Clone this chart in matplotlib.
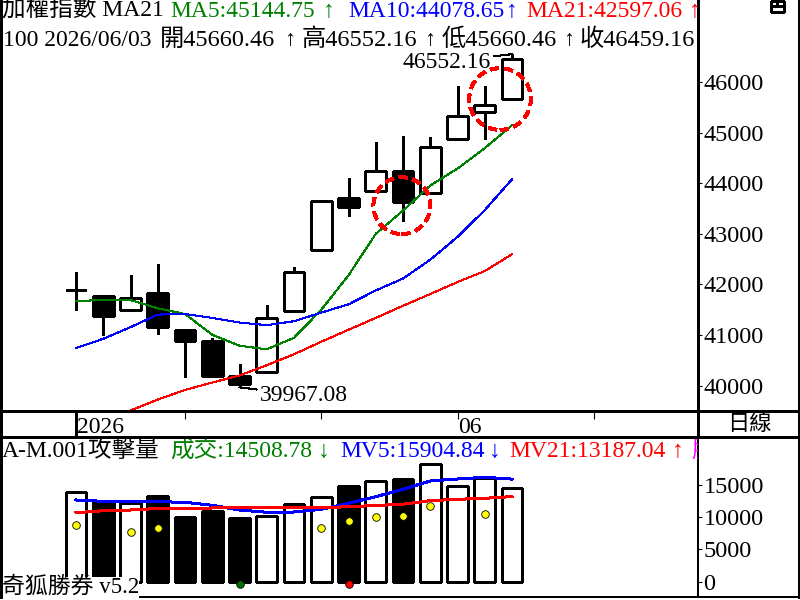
import matplotlib
matplotlib.use('Agg')
import matplotlib.pyplot as plt
from matplotlib.lines import Line2D
from matplotlib.patches import Rectangle
import numpy as np

# daily candles (last one is 2026/06/03)
opens = [41900, 41778, 41503, 41823, 41098, 40876, 40196, 40268, 41470, 42685,
         43704, 43855, 44234, 43816, 44880, 45410, 45660.46]
highs = [42254, 41778, 42195, 42411, 41098, 40941, 40437, 41601, 42352, 43640,
         44096, 44822, 44939, 44920, 45913, 45913, 46552.16]
lows = [41490, 41006, 41503, 41025, 40163, 40163, 39967.08, 40268, 41470, 42685,
        43358, 43855, 43248, 43816, 44880, 44880, 45660.46]
closes = [41900, 41386, 41739, 41156, 40888, 40183, 40033, 41347, 42248, 43640,
          43534, 44247, 43632, 44718, 45325, 45541, 46459.16]

ma5 = [41666, 41700, 41692, 41529, 41417, 41006, 40790, 40719, 40947, 41500,
       42180, 43000, 43460, 43954, 44291, 44693, 45144.75]
ma10 = [40745, 40927, 41156, 41405, 41417, 41339, 41248, 41196, 41274, 41444,
        41607, 41882, 42117, 42489, 42940, 43469, 44078.65]
ma21 = [39120, 39310, 39510, 39726, 39916, 40063, 40202, 40405, 40621, 40868,
        41105, 41339, 41580, 41811, 42048, 42265, 42597.06]

# volume panel
vols = [13857, 12307, 12152, 13284, 10029, 10959, 9874, 10137, 11997, 13082,
        14834, 15562, 15919, 18197, 14834, 16027, 14508.78]
mv5 = [12664, 12462, 12462, 12400, 12307, 11842, 11114, 10757, 10804, 11222,
       12152, 13175, 14322, 15609, 15919, 16182, 15904.84]
mv21 = [10695, 11005, 11114, 11346, 11377, 11424, 11424, 11470, 11470, 11470,
        11625, 11811, 12013, 12555, 12772, 12927, 13187.04]
yellow_idx = [0, 2, 3, 9, 10, 11, 12, 13, 15]
yellow_val = [8789, 7750, 8370, 8324, 9455, 10075, 10230, 11780, 10447]
green_dot_idx, red_dot_idx, dot_val = [6], [10], -350

# marked zones (dashed circles)
circle_x = [11.96, 15.56]
circle_y = [43557, 45664]
circle_s = [1681, 1970]

date_ticks = [0, 4, 9, 14, 19]
date_labels = {0: '2026', 14: '06'}
price_ticks = [40000, 41000, 42000, 43000, 44000, 45000, 46000]
vol_ticks = [0, 5000, 10000, 15000]

plt.rcParams['font.family'] = ['Liberation Serif', 'Noto Sans CJK TC']
plt.rcParams['font.size'] = 17
plt.rcParams['lines.antialiased'] = False
plt.rcParams['patch.antialiased'] = False

W, H = 800, 600
def fx(px): return px / W
def fy(py): return 1 - py / H

GREEN, BLUE, RED, MAG = '#008000', '#0000ff', '#ff0000', '#ff00ff'
LW = 0.8

fig = plt.figure(figsize=(8, 6), dpi=100)
x = np.arange(len(closes))
o, c = np.array(opens), np.array(closes)
up = c >= o
xlim = (-76 / 27.25, (698 - 76) / 27.25)

# ---- price panel
ax_p = fig.add_axes([0, fy(411), fx(698), 411 / H])
ax_p.vlines(x, lows, highs, color='black', lw=LW, zorder=2)
ax_p.bar(x, np.abs(c - o), bottom=np.minimum(o, c), width=0.77,
         color=np.where(up, 'white', 'black'), edgecolor='black', lw=LW, zorder=3)
ax_p.plot(x, ma5, color=GREEN, lw=0.75, zorder=4)
ax_p.plot(x, ma10, color=BLUE, lw=0.75, zorder=4)
ax_p.plot(x, ma21, color=RED, lw=0.75, zorder=4)
ax_p.scatter(circle_x, circle_y, s=circle_s, facecolors='none', edgecolors=RED,
             linewidths=2, linestyles=(0, (3, 2)), zorder=6)

i_hi = int(np.argmax(highs))
ax_p.annotate(f'{highs[i_hi]:.2f}', xy=(i_hi, highs[i_hi]), xytext=(-21, -8),
              textcoords='offset pixels', ha='right', va='center',
              arrowprops=dict(arrowstyle='-', lw=LW, color='black', shrinkA=0, shrinkB=0))
i_lo = int(np.argmin(lows))
ax_p.annotate(f'{lows[i_lo]:.2f}', xy=(i_lo, lows[i_lo]), xytext=(20, -8),
              textcoords='offset pixels', ha='left', va='center',
              arrowprops=dict(arrowstyle='-', lw=LW, color='black', shrinkA=0, shrinkB=0))

ax_p.set_xlim(xlim)
ax_p.set_ylim(40000 - 21.5 / 0.05111, 40000 + 389.5 / 0.05111)
ax_p.set_xticks([])
ax_p.set_yticks(price_ticks)
ax_p.set_yticks(np.arange(39500, 47500, 500), minor=True)
ax_p.yaxis.tick_right()
ax_p.tick_params(axis='y', which='major', direction='out', length=3, width=LW, pad=1,
                 labelsize=17.5)
ax_p.tick_params(axis='y', which='minor', direction='out', length=1, width=LW)
ax_p.spines['top'].set_visible(False)
for s in ax_p.spines.values():
    s.set_linewidth(LW)

def put(ax, px, py, s, color='black', ha='left', **kw):
    ax.text(fx(px), fy(py), s, color=color, transform=fig.transFigure,
            va='baseline', ha=ha, clip_on=True, zorder=10, **kw)

# header: texts and their arrows
put(ax_p, 2, 17, '加權指數 MA21')
put(ax_p, 170, 17, f'MA5:{ma5[-1]:.2f}', GREEN)
put(ax_p, 329, 17, '↑', GREEN, ha='center')
put(ax_p, 505, 17, f'MA10:{ma10[-1]:.2f}', BLUE, ha='right')
put(ax_p, 512, 17, '↑', BLUE, ha='center')
put(ax_p, 526, 17, f'MA21:{ma21[-1]:.2f}', RED)
put(ax_p, 695, 17, '↑', RED, ha='center')
put(ax_p, 3, 45.5, '100 2026/06/03')
put(ax_p, 160, 45.5, f'開{opens[-1]:.2f}', size=17.5)
put(ax_p, 290, 45.5, '↑', ha='center', size=16)
put(ax_p, 302, 45.5, f'高{highs[-1]:.2f}', size=17.5)
put(ax_p, 430, 45.5, '↑', ha='center', size=16)
put(ax_p, 442, 45.5, f'低{lows[-1]:.2f}', size=17.5)
put(ax_p, 569, 45.5, '↑', ha='center', size=16)
put(ax_p, 580, 45.5, f'收{closes[-1]:.2f}', size=17.5)

# ---- date strip
ax_d = fig.add_axes([0, fy(437), fx(698), 26 / H])
ax_d.set_xlim(xlim)
ax_d.set_ylim(0, 1)
ax_d.set_yticks([])
ax_d.set_xticks(date_ticks)
ax_d.tick_params(axis='x', top=True, bottom=False, direction='in', length=6,
                 width=LW, labeltop=False, labelbottom=False)
ax_d.axvline(date_ticks[0], color='black', lw=LW)
for i, lab in date_labels.items():
    ax_d.text(i + 0.04, 0.14, lab, transform=ax_d.get_xaxis_transform(), va='baseline')
ax_d.spines['top'].set_visible(False)
for s in ax_d.spines.values():
    s.set_linewidth(LW)

# ---- volume panel
ax_v = fig.add_axes([0, fy(597), fx(698), 160 / H])
ax_v.bar(x, vols, width=0.77, color=np.where(up, 'white', 'black'),
         edgecolor='black', lw=LW, zorder=2)
ax_v.plot(x, mv5, color=BLUE, lw=1.44, zorder=3)
ax_v.plot(x, mv21, color=RED, lw=1.44, zorder=3)
ax_v.scatter(yellow_idx, yellow_val, s=30, color='#ffff00', edgecolors='black',
             linewidths=0.6, zorder=4)
ax_v.scatter(green_dot_idx, [dot_val], s=30, color='#007000', edgecolors='black',
             linewidths=0.6, zorder=4, clip_on=False)
ax_v.scatter(red_dot_idx, [dot_val], s=30, color=RED, edgecolors='black',
             linewidths=0.6, zorder=4, clip_on=False)
ax_v.set_xlim(xlim)
ax_v.set_ylim(-(597 - 581.7) * 155, (581.7 - 437) * 155)
ax_v.set_xticks([])
ax_v.set_yticks(vol_ticks)
ax_v.yaxis.tick_right()
ax_v.tick_params(axis='y', direction='out', length=3, width=LW, pad=1, labelsize=17.5)
ax_v.spines['top'].set_visible(False)
for s in ax_v.spines.values():
    s.set_linewidth(LW)
ax_v.spines['right'].set_linewidth(1.44)
ax_v.spines['bottom'].set_linewidth(1.44)

put(ax_v, 2, 457, 'A-M.001攻擊量')
put(ax_v, 170, 457, f'成交:{vols[-1]:.2f}', GREEN)
put(ax_v, 324, 457, '↓', GREEN, ha='center')
put(ax_v, 340, 457, f'MV5:{mv5[-1]:.2f}', BLUE)
put(ax_v, 495, 457, '↓', BLUE, ha='center')
put(ax_v, 509, 457, f'MV21:{mv21[-1]:.2f}', RED)
put(ax_v, 678, 457, '↑', RED, ha='center')
put(ax_v, 691, 457, '股', MAG)
ax_v.text(fx(2), fy(593), '奇狐勝券 v5.2', transform=fig.transFigure, va='baseline',
          size=16.5, zorder=10, bbox=dict(fc='white', ec='none', pad=0))

# ---- frame and right-hand boxes
def fline(xs, ys, lw=LW):
    fig.add_artist(Line2D([fx(v) for v in xs], [fy(v) for v in ys],
                          color='black', lw=lw))

fline([0.5, 0.5], [0, 597])
fline([799, 799], [0, 597])
fline([0, 800], [411, 411])
fline([0, 800], [437, 437])
fline([698, 800], [597, 597], 1.44)
fig.text(fx(749), fy(424), '日線', ha='center', va='center', size=16,
         family='Noto Sans CJK TC')
fig.add_artist(Rectangle((fx(771), fy(12)), 13 / W, 11 / H, fill=False,
                         ec='black', lw=LW, transform=fig.transFigure))
fline([771, 784], [6, 6])
fline([777, 777], [1, 6])

fig.savefig('out.png', dpi=100)
